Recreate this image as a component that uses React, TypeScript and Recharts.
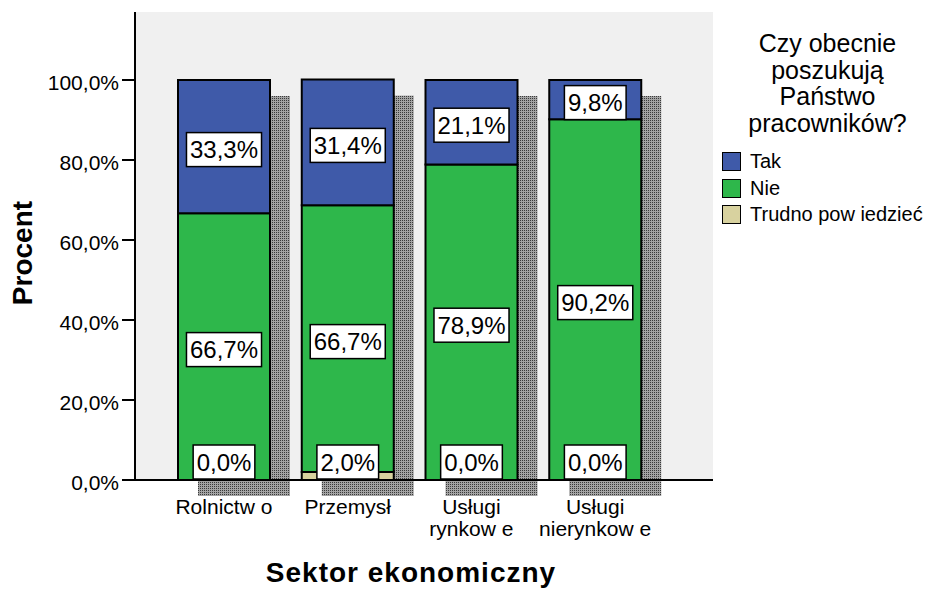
import { BarChart, Bar, XAxis, YAxis, CartesianGrid, Legend, LabelList } from "recharts";

const sectors = ["Rolnictw o", "Przemysł", "Usługi\nrynkow e", "Usługi\nnierynkow e"];
const tak = [33.3, 31.4, 21.1, 9.8];
const nie = [66.7, 66.7, 78.9, 90.2];
const trudno = [0.0, 2.0, 0.0, 0.0];
const yTicks = [0, 20, 40, 60, 80, 100];
const legendOrder = ["tak", "nie", "trudno"];

const rows = sectors.map((sektor, i) => ({
  sektor,
  tak: tak[i],
  nie: nie[i],
  trudno: trudno[i],
  total: tak[i] + nie[i] + trudno[i],
}));

const FONT = "Arial, 'Liberation Sans', sans-serif";
const BLUE = "#3f5aa9";
const GREEN = "#2eb74b";
const TAN = "#d8d29f";

const pct = (v: number) => v.toFixed(1).replace(".", ",") + "%";

// rough Arial advance widths (em)
const textWidth = (s: string, size: number) =>
  s.split("").reduce((w, c) => w + (c === "," ? 0.278 : c === "%" ? 0.889 : 0.556), 0) * size;

function ValueBox(props: any) {
  const vb = props.viewBox ?? props;
  const { x, y, width, height } = vb;
  const text = pct(Number(props.value));
  const w = textWidth(text, 24) + 7;
  const h = 34;
  const cx = x + width / 2;
  const cy = props.anchor === "bottom" ? y + height - h / 2 - 1 : y + height / 2 + 3;
  return (
    <g>
      <rect x={cx - w / 2} y={cy - h / 2} width={w} height={h} fill="#fff" stroke="#000" strokeWidth={1.5} />
      <text x={cx} y={cy} dy="0.36em" textAnchor="middle" fontSize={24} fontFamily={FONT} fill="#000">
        {text}
      </text>
    </g>
  );
}

// drop shadow behind each full stack, shifted right and down
function ShadowShape(props: any) {
  const { x, y, width, height } = props;
  return <rect x={x + 20} y={y + 16} width={width} height={height} fill="url(#dots)" />;
}

function SectorTick({ x, y, payload }: any) {
  const lines = String(payload.value).split("\n");
  return (
    <text x={x} y={y} textAnchor="middle" fontSize={21} fontFamily={FONT} fill="#000">
      {lines.map((l, i) => (
        <tspan key={i} x={x} dy={i === 0 ? 34 : 22}>
          {l}
        </tspan>
      ))}
    </text>
  );
}

function PercentTick({ x, y, payload }: any) {
  return (
    <text x={x} y={y} dy={10} textAnchor="end" fontSize={21} fontFamily={FONT} fill="#000">
      {pct(payload.value)}
    </text>
  );
}

function LegendBox({ payload }: any) {
  const items = (payload ?? [])
    .filter((it: any) => legendOrder.includes(it.dataKey))
    .sort((a: any, b: any) => legendOrder.indexOf(a.dataKey) - legendOrder.indexOf(b.dataKey));
  return (
    <div style={{ width: 215, fontFamily: FONT, color: "#000" }}>
      <div style={{ textAlign: "center", fontSize: 25, lineHeight: "26.5px" }}>
        Czy obecnie
        <br />
        poszukują
        <br />
        Państwo
        <br />
        pracowników?
      </div>
      <div style={{ marginTop: 12 }}>
        {items.map((it: any) => (
          <div key={it.dataKey} style={{ display: "flex", alignItems: "center", height: 26.7, fontSize: 20 }}>
            <span
              style={{
                width: 17,
                height: 17,
                marginLeft: 2,
                marginRight: 9,
                background: it.color,
                border: "1.5px solid #000",
                boxSizing: "content-box",
              }}
            />
            {it.value}
          </div>
        ))}
      </div>
    </div>
  );
}

export default function App() {
  return (
    <div style={{ width: 935, height: 589, background: "#fff", fontFamily: FONT }}>
      <style>{`body{margin:0}`}</style>
      <BarChart width={935} height={589} data={rows} margin={{ top: 12, right: 222, bottom: 0, left: 0 }}>
        <defs>
          <pattern id="dots" width="2" height="2" patternUnits="userSpaceOnUse">
            <rect width="2" height="2" fill="#a3a3a3" />
            <rect width="1" height="1" fill="#3a3a3a" />
          </pattern>
        </defs>
        <CartesianGrid fill="#f0f0f0" horizontal={false} vertical={false} />
        <XAxis
          dataKey="sektor"
          padding={{ left: 27, right: 56 }}
          height={109}
          tickSize={0}
          tickMargin={0}
          tickLine={false}
          axisLine={{ stroke: "#000", strokeWidth: 2 }}
          tick={<SectorTick />}
          interval={0}
          label={{
            content: (p: any) => (
              <text
                x={p.viewBox.x + p.viewBox.width / 2 - 13}
                y={p.viewBox.y + 102}
                textAnchor="middle"
                fontSize={28}
                fontWeight="bold"
                letterSpacing={1}
                fontFamily={FONT}
                fill="#000"
              >
                Sektor ekonomiczny
              </text>
            ),
          }}
        />
        <XAxis
          xAxisId="shadow"
          dataKey="sektor"
          orientation="top"
          padding={{ left: 27, right: 56 }}
          height={0}
          tick={false}
          tickLine={false}
          axisLine={{ stroke: "#000", strokeWidth: 2 }}
        />
        <YAxis
          width={135}
          domain={[0, 117]}
          ticks={yTicks}
          tickSize={13}
          tickMargin={3}
          tickLine={{ stroke: "#000", strokeWidth: 2 }}
          axisLine={{ stroke: "#000", strokeWidth: 2 }}
          tick={<PercentTick />}
          label={{
            content: (p: any) => {
              const cx = p.viewBox.x + 22;
              const cy = p.viewBox.y + p.viewBox.height / 2 + 7;
              return (
                <text
                  x={cx}
                  y={cy}
                  dy="0.36em"
                  transform={`rotate(-90 ${cx} ${cy})`}
                  textAnchor="middle"
                  fontSize={28}
                  fontWeight="bold"
                  fontFamily={FONT}
                  fill="#000"
                >
                  Procent
                </text>
              );
            },
          }}
        />
        <YAxis
          yAxisId="frame"
          orientation="right"
          width={0}
          domain={[0, 117]}
          tick={false}
          tickLine={false}
          axisLine={{ stroke: "#000", strokeWidth: 2 }}
        />
        <Legend
          layout="horizontal"
          verticalAlign="middle"
          align="center"
          content={<LegendBox />}
          wrapperStyle={{ left: 720, top: 30, width: 215 }}
        />
        <Bar
          xAxisId="shadow"
          dataKey="total"
          barSize={92}
          legendType="none"
          shape={<ShadowShape />}
          isAnimationActive={false}
        >
          {/* the "trudno" boxes sit on the baseline, so they hang off the full stack */}
          <LabelList dataKey="trudno" content={(p: any) => <ValueBox {...p} anchor="bottom" />} />
        </Bar>
        <Bar dataKey="trudno" name="Trudno pow iedzieć" stackId="s" barSize={92} fill={TAN} stroke="#000" strokeWidth={2} isAnimationActive={false} />
        <Bar dataKey="nie" name="Nie" stackId="s" barSize={92} fill={GREEN} stroke="#000" strokeWidth={2} isAnimationActive={false}>
          <LabelList dataKey="nie" content={(p: any) => <ValueBox {...p} />} />
        </Bar>
        <Bar dataKey="tak" name="Tak" stackId="s" barSize={92} fill={BLUE} stroke="#000" strokeWidth={2} isAnimationActive={false}>
          <LabelList dataKey="tak" content={(p: any) => <ValueBox {...p} />} />
        </Bar>
      </BarChart>
    </div>
  );
}
